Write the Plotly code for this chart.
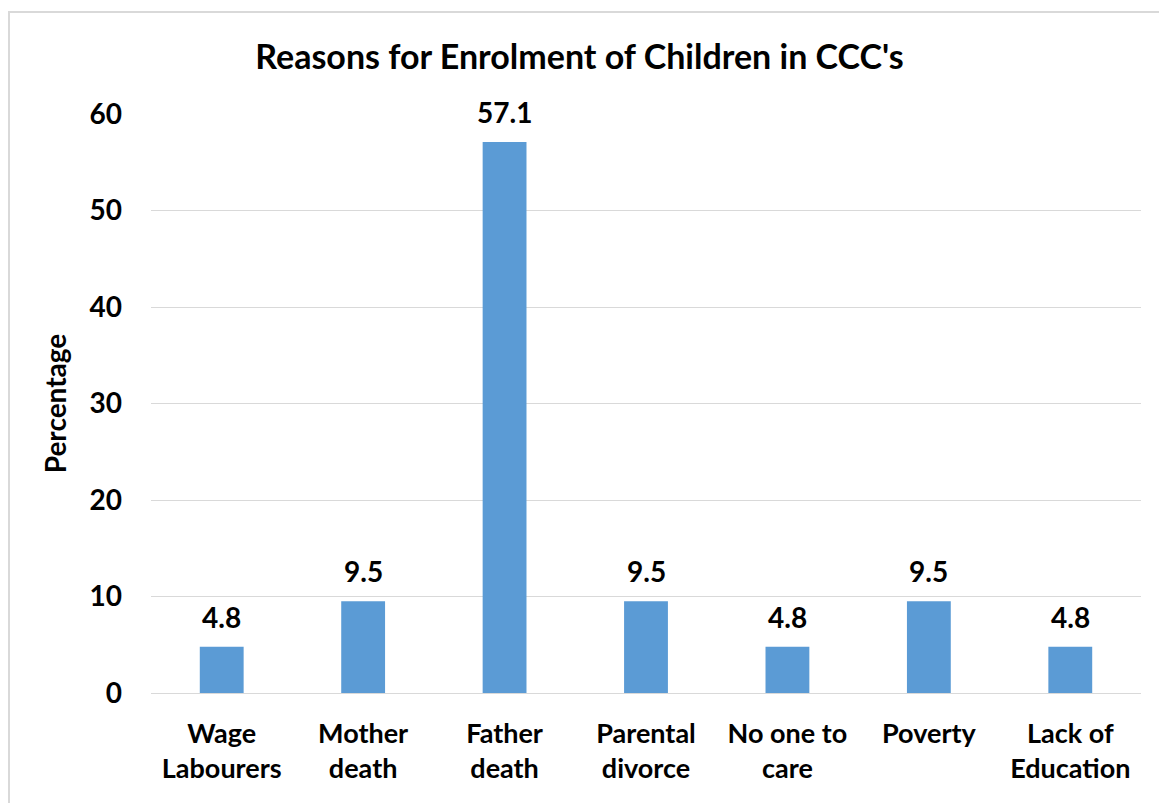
import plotly.graph_objects as go

categories = ["Wage<br>Labourers", "Mother<br>death", "Father<br>death", "Parental<br>divorce",
              "No one to<br>care", "Poverty", "Lack of<br>Education"]
values = [4.8, 9.5, 57.1, 9.5, 4.8, 9.5, 4.8]
labels = ["4.8", "9.5", "57.1", "9.5", "4.8", "9.5", "4.8"]
yticks = [0, 10, 20, 30, 40, 50, 60]

FONT = "Lato, Calibri, Carlito, sans-serif"

fig = go.Figure(go.Bar(
    x=categories, y=values,
    marker=dict(color="#5b9bd5", line=dict(width=0)),
    width=0.31, cliponaxis=False,
))

for c, v, t in zip(categories, values, labels):
    fig.add_annotation(x=c, y=v, text="<b>" + t + "</b>", showarrow=False,
                       yanchor="middle", yshift=30,
                       font=dict(family=FONT, size=28, color="black"))

fig.update_layout(
    width=1159, height=803,
    margin=dict(l=151, r=18, t=114, b=110),
    paper_bgcolor="white", plot_bgcolor="white",
    font=dict(family=FONT, color="black"),
    title=dict(text="<b>Reasons for Enrolment of Children in CCC's</b>",
               x=0.5, xanchor="center", y=1 - 57 / 803, yanchor="middle",
               font=dict(family=FONT, size=34, color="black")),
    showlegend=False,
)
fig.update_yaxes(range=[0, 60], showgrid=True, gridcolor="#d9d9d9", gridwidth=1,
                 zeroline=True, zerolinecolor="#d9d9d9", zerolinewidth=1,
                 tickvals=yticks, ticktext=["<b>%d</b>" % v for v in yticks],
                 tickfont=dict(family=FONT, size=28, color="black"), ticks="",
                 ticklabelstandoff=28,
                 title=dict(text="<b>Percentage</b>", font=dict(family=FONT, size=28, color="black"),
                            standoff=14))
fig.update_xaxes(showline=False, ticks="", tickangle=0,
                 tickvals=categories, ticktext=["<b>" + c + "</b>" for c in categories],
                 tickfont=dict(family=FONT, size=27, color="black"),
                 ticklabelstandoff=22)

fig.add_shape(type="rect", xref="paper", yref="paper",
              x0=(9 - 151) / 990, x1=1.05, y0=-0.3, y1=(693 - 12) / 579,
              line=dict(color="#d9d9d9", width=2), fillcolor="rgba(0,0,0,0)", layer="below")

fig.write_html("out.html")
